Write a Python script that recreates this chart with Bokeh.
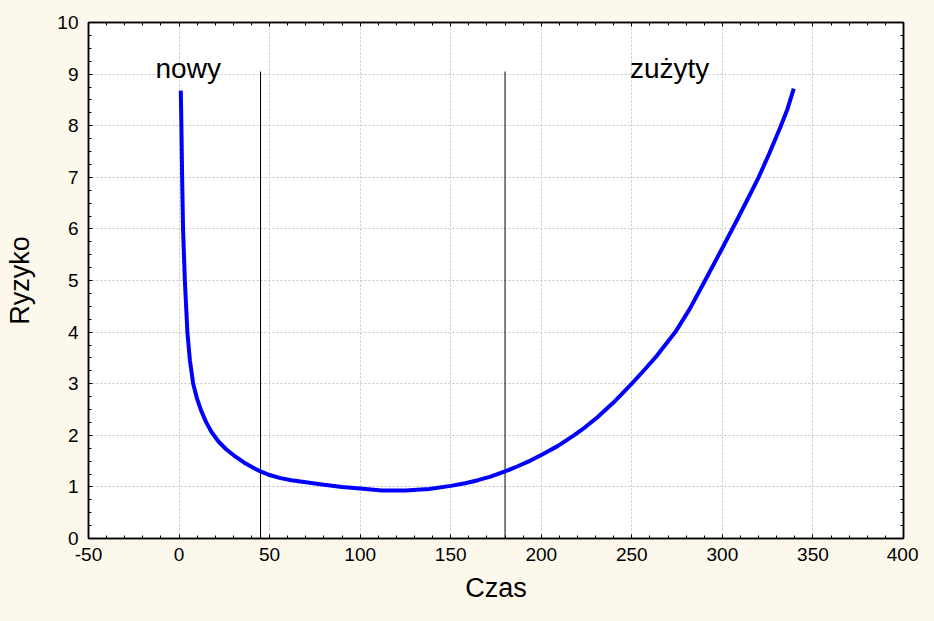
from bokeh.plotting import figure
from bokeh.models import LinearAxis, SingleIntervalTicker, Range1d, CustomJSTickFormatter
from bokeh.core.properties import value
from bokeh.embed import file_html
from bokeh.resources import INLINE

# Curve
czas = [0.96, 1.3, 1.7, 2.2, 3.2, 4.6, 6.0, 7.8, 10, 12.4, 15, 18, 22, 26, 31, 36, 41,
        45, 50, 56, 62, 70, 80, 90, 100, 112, 125, 138, 150, 158, 165, 172, 180,
        187, 194, 200, 209, 218, 224, 231, 240, 250, 257, 264, 274, 282, 290, 300,
        307, 314, 320, 326, 332, 336, 339.4]
ryzyko = [8.68, 8.0, 7.0, 6.0, 5.0, 4.0, 3.45, 3.0, 2.7, 2.46, 2.25, 2.06, 1.87, 1.73, 1.59, 1.47, 1.37,
          1.30, 1.23, 1.17, 1.13, 1.09, 1.04, 1.00, 0.97, 0.93, 0.93, 0.96, 1.02, 1.07, 1.13, 1.20, 1.30,
          1.40, 1.51, 1.62, 1.79, 2.0, 2.15, 2.35, 2.64, 3.0, 3.27, 3.55, 4.0, 4.45, 4.97, 5.63,
          6.1, 6.58, 7.0, 7.47, 7.97, 8.33, 8.72]

granice_x = [45, 180]
granice_gora = [9.05, 9.05]

etykiety = ["nowy", "zużyty"]
etykiety_x = [-13, 249]
etykiety_y = [9.1, 9.1]

FONT = "Liberation Sans"
BG = "#FDF8EC"

p = figure(width=918, height=605, output_backend="svg", toolbar_location=None,
           x_range=Range1d(-50, 400), y_range=Range1d(0, 10),
           min_border_left=88, min_border_right=15, min_border_top=22, min_border_bottom=67)
p.background_fill_color = "white"
p.border_fill_color = BG
p.outline_line_color = "black"
p.outline_line_width = 1.5

xt = SingleIntervalTicker(interval=50, num_minor_ticks=5)
yt = SingleIntervalTicker(interval=1, num_minor_ticks=4)

def style(ax, labels=True):
    ax.axis_line_color = "black"
    ax.axis_line_width = 1.5
    ax.major_tick_in = 4
    ax.major_tick_out = 0
    ax.minor_tick_in = 3
    ax.minor_tick_out = 0
    ax.major_tick_line_color = "black"
    ax.minor_tick_line_color = "black"
    if labels:
        ax.formatter = CustomJSTickFormatter(code="return tick.toString()")
        ax.major_label_text_font = FONT
        ax.major_label_text_font_size = "19px"
        ax.major_label_text_color = "black"
        ax.axis_label_text_font = FONT
        ax.axis_label_text_font_size = "27px"
        ax.axis_label_text_font_style = "normal"
        ax.axis_label_text_color = "black"
    else:
        ax.formatter = CustomJSTickFormatter(code="return ''")
        ax.major_label_standoff = 0

p.xaxis.ticker = xt
p.yaxis.ticker = yt
style(p.xaxis[0])
style(p.yaxis[0])
p.xaxis.axis_label = "Czas"
p.yaxis.axis_label = "Ryzyko"
p.xaxis.major_label_standoff = 9
p.yaxis.major_label_standoff = 10
p.xaxis.axis_label_standoff = 9
p.yaxis.axis_label_standoff = 19

top = LinearAxis(ticker=SingleIntervalTicker(interval=50, num_minor_ticks=5))
right = LinearAxis(ticker=SingleIntervalTicker(interval=1, num_minor_ticks=4))
style(top, labels=False)
style(right, labels=False)
p.add_layout(top, "above")
p.add_layout(right, "right")

p.xgrid.ticker = xt
p.ygrid.ticker = yt
for g in (p.xgrid[0], p.ygrid[0]):
    g.grid_line_color = "#C4C4C4"
    g.grid_line_dash = "2 2"
    g.grid_line_width = 1

p.segment(x0=granice_x, y0=[0, 0], x1=granice_x, y1=granice_gora,
          line_color="black", line_width=1)
p.line(czas, ryzyko, line_color="#0000FF", line_width=4, line_join="round")
p.text(x=etykiety_x, y=etykiety_y, text=etykiety, text_font=value(FONT),
       text_font_size="28px", text_color="black", text_align="left",
       text_baseline="alphabetic")

html = file_html(p, INLINE)
html = html.replace("<head>", "<head><style>html, body { background: %s; }</style>" % BG, 1)
open("out.html", "w").write(html)
